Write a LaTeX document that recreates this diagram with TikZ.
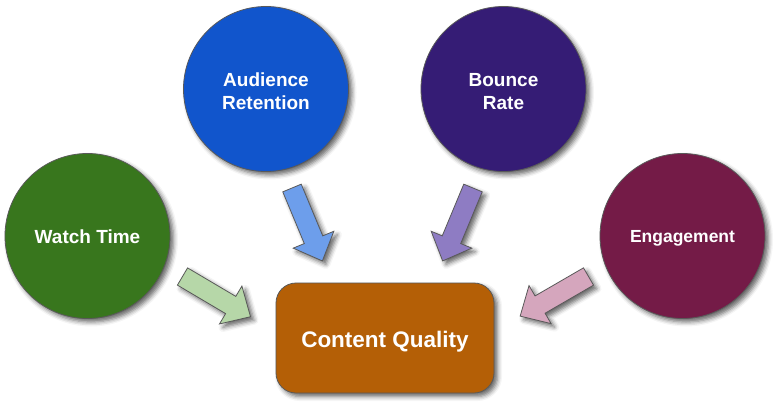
\documentclass[tikz,border=0pt]{standalone}
\usepackage{fontspec}
\setmainfont{Liberation Sans}
\usetikzlibrary{shadows.blur}
\definecolor{cgreen}{HTML}{38761D}
\definecolor{cblue}{HTML}{1155CC}
\definecolor{cpurple}{HTML}{351C75}
\definecolor{cmaroon}{HTML}{741B47}
\definecolor{corange}{HTML}{B45F06}
\definecolor{lgreen}{HTML}{B6D7A8}
\definecolor{lblue}{HTML}{6D9EEB}
\definecolor{lpurple}{HTML}{8E7CC3}
\definecolor{lpink}{HTML}{D5A6BD}
\definecolor{edgegray}{HTML}{595959}
\newcommand\blockarrowpath{(0,-10) -- (56,-10) -- (56,-22) -- (79,0) -- (56,22) -- (56,10) -- (0,10) -- cycle}
\begin{document}
\begin{tikzpicture}[x=1pt,y=-1pt,
  shade/.style={blur shadow={shadow xshift=3.5pt, shadow yshift=-3.5pt, shadow blur radius=4.5pt, shadow opacity=60}},
  circ/.style={circle, draw=edgegray, line width=0.8pt, minimum size=165pt, inner sep=0pt, shade},
  ctext/.style={text=white, align=center, inner sep=0pt, font=\bfseries\fontsize{19}{23}\selectfont},
  qbox/.style={rectangle, rounded corners=20pt, draw=edgegray, line width=0.8pt, fill=corange, minimum width=218pt, minimum height=110pt, shade},
  barrow/.style={draw=edgegray, line width=0.8pt, line join=miter, shade}
]
\useasboundingbox (0,0) rectangle (781,404);
\node[circ, fill=cgreen] (watch) at (87.5,236) {};
\node[circ, fill=cblue] (aud) at (266,89) {};
\node[circ, fill=cpurple] (bounce) at (503.5,89) {};
\node[circ, fill=cmaroon] (eng) at (682.5,236) {};
\node[qbox] (cq) at (385,338) {};
\node[ctext, yshift=-1pt] (watcht) at (watch) {Watch Time};
\node[ctext, yshift=-2.5pt] (audt) at (aud) {Audience\\Retention};
\node[ctext, yshift=-3pt] (bouncet) at (bounce) {Bounce\\Rate};
\node[ctext, yshift=-2.5pt, font=\bfseries\fontsize{17.5}{21}\selectfont] (engt) at (eng) {Engagement};
\node[ctext, yshift=-3.5pt, font=\bfseries\fontsize{22.5}{27}\selectfont] (cqt) at (cq) {Content Quality};
\coordinate (gtail) at (182.5,276.5);
\coordinate (btail) at (292,188);
\coordinate (ptail) at (473,188);
\coordinate (ktail) at (588.5,276.5);
\draw[barrow, fill=lgreen, shift={(gtail)}, rotate=-30.6] \blockarrowpath;
\draw[barrow, fill=lblue, shift={(btail)}, rotate=-67.4] \blockarrowpath;
\draw[barrow, fill=lpurple, shift={(ptail)}, rotate=-112.6] \blockarrowpath;
\draw[barrow, fill=lpink, shift={(ktail)}, rotate=-149.9] \blockarrowpath;
\end{tikzpicture}
\end{document}
